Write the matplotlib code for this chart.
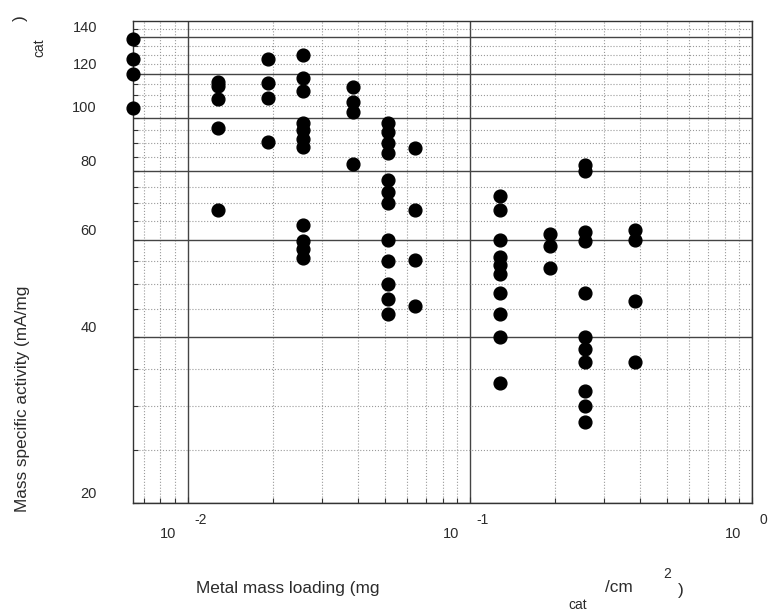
import matplotlib
matplotlib.use("Agg")
import matplotlib.pyplot as plt
from matplotlib.ticker import FixedLocator, NullFormatter
from matplotlib.transforms import offset_copy

plt.rcParams["font.family"] = ["Liberation Sans", "DejaVu Sans"]

# metal mass loading (mg_cat/cm^2) for each column of points
loading = [0.0064, 0.0128, 0.0192, 0.0256, 0.0384, 0.0512, 0.064,
           0.128, 0.192, 0.256, 0.384]

activity = [
    [139, 128, 120, 104],
    [116.2, 114, 108, 96, 68],
    [128, 115.5, 108.5, 90.5],
    [130, 118, 112, 98, 95, 91.5, 88.5, 64, 59.7, 57.7, 55.7],
    [113.8, 107, 102.5, 82.5],
    [98, 94.3, 90, 86.2, 77, 73.4, 70, 60, 55, 50, 47, 44],
    [88, 68, 55.2, 45.5],
    [72, 68, 60, 56, 54, 52, 48, 44, 40, 33],
    [61.5, 58.6, 53.3],
    [82, 80, 62, 59.8, 48, 40, 38, 36, 32, 30, 28],
    [62.7, 60, 46.6, 36],
]

y_major = [20, 40, 60, 80, 100, 120, 140]
y_minor = [25, 30, 35, 45, 50, 55, 65, 70, 75, 85, 90, 95,
           105, 110, 115, 125, 130, 135, 145]
x_major = [0.01, 0.1, 1.0]
x_minor = [0.007, 0.008, 0.009] + [k / 100 for k in range(2, 10)] + [k / 10 for k in range(2, 10)]
x_exps = ["-2", "-1", "0"]

text_col = "#2b2b2b"

fig = plt.figure(figsize=(7.69, 6.13), dpi=100)
ax = fig.add_axes([0.173, 0.1794, 0.8049, 0.7868])

xs, ys = [], []
for x, col in zip(loading, activity):
    for v in col:
        xs.append(x)
        ys.append(v)
ax.plot(xs, ys, "o", color="black", markersize=9.2, clip_on=False, zorder=5)

ax.set_xscale("log")
ax.set_yscale("log")
ax.set_xlim(0.0064, 1.0)
ax.set_ylim(20, 150)

ax.xaxis.set_major_locator(FixedLocator(x_major))
ax.xaxis.set_minor_locator(FixedLocator(x_minor))
ax.xaxis.set_major_formatter(NullFormatter())
ax.xaxis.set_minor_formatter(NullFormatter())
ax.yaxis.set_major_locator(FixedLocator(y_major))
ax.yaxis.set_minor_locator(FixedLocator(y_minor))
ax.yaxis.set_minor_formatter(NullFormatter())
ax.set_yticklabels([str(v) for v in y_major])

ax.tick_params(which="both", direction="in", colors="#333333", top=False, right=False)
ax.tick_params(which="major", length=4, width=0.8)
ax.tick_params(which="minor", length=3.5, width=0.8)
ax.tick_params(axis="y", which="major", pad=26, labelsize=10.5, labelcolor=text_col)

# tick labels in the reference sit a little above their grid lines
shift = offset_copy(ax.get_yaxis_text1_transform(26)[0], fig=fig, x=0, y=5.3, units="dots")
for lbl in ax.get_yticklabels():
    lbl.set_verticalalignment("baseline")
    lbl.set_transform(shift)

ax.grid(which="major", color="#444444", linestyle="-", linewidth=1.0)
ax.grid(which="minor", color="#9a9a9a", linestyle=":", linewidth=0.8)
ax.set_axisbelow(True)
for sp in ax.spines.values():
    sp.set_color("#333333")
    sp.set_linewidth(1.0)

# x tick labels drawn as "10" plus a separate exponent
xt = ax.get_xaxis_transform()
base_tr = offset_copy(xt, fig=fig, x=-11, y=-35.3, units="dots")
exp_tr = offset_copy(xt, fig=fig, x=7, y=-21, units="dots")
for xv, e in zip(x_major, x_exps):
    ax.text(xv, 0, "10", transform=base_tr, ha="right", va="baseline",
            fontsize=10.5, color=text_col)
    ax.text(xv, 0, e, transform=exp_tr, ha="left", va="baseline",
            fontsize=10, color=text_col)

W, H = 769, 613


def ftext(px, py, s, **kw):
    fig.text(px / W, 1 - py / H, s, color=text_col, **kw)


# x axis label pieces
ftext(196, 592.7, "Metal mass loading (mg", fontsize=12.4, ha="left", va="baseline")
ftext(605, 592.0, "/cm", fontsize=12.4, ha="left", va="baseline")
ftext(663, 578.3, "2", fontsize=10, ha="left", va="baseline")
ftext(678, 594.7, ")", fontsize=12.4, ha="left", va="baseline")
ftext(568, 609.0, "cat", fontsize=10, ha="left", va="baseline")

# y axis label pieces
ftext(22.5, 399, "Mass specific activity (mA/mg", fontsize=12.4, rotation=90,
      ha="center", va="center")
ftext(39, 47.5, "cat", fontsize=10, rotation=90, ha="center", va="center")
ftext(20, 18, ")", fontsize=12.4, rotation=90, ha="center", va="center")

fig.savefig("out.png", dpi=100)
